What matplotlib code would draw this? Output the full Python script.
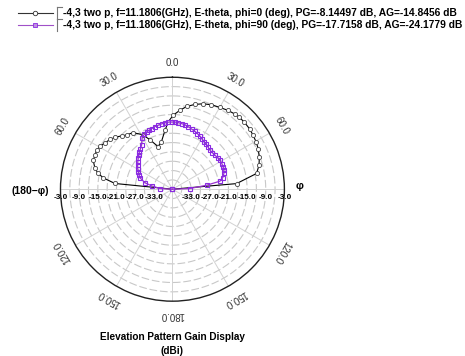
import numpy as np
import matplotlib.pyplot as plt
from matplotlib.lines import Line2D

# phi = 0 cut (theta in deg, gain in dBi)
theta_phi0 = [-90, -84.3, -80.7, -78, -75, -70, -66.3, -62.8, -59.3, -55.6, -51.5, -48,
              -43.6, -40, -35, -28.7, -24.5, -18.5, -13, -7.2, -3.6, 0.6, 5.4, 9.8, 14.8,
              19.8, 24.8, 30, 35.2, 39.5, 43, 47.1, 51.9, 56.2, 60.7, 64.6, 69.6, 74.5,
              79.4, 85, 90]
gain_phi0 = [-39, -20.4, -16.5, -14.6, -13.2, -11.9, -11.8, -11.6, -11.9, -12.7, -13.3, -14.1,
             -15.3, -16.2, -16.8, -19.0, -21.5, -24.6, -23.3, -19.9, -17.3, -15.2, -13.5, -12.0, -10.8,
             -9.8, -9.1, -8.6, -8.0, -7.6, -7.4, -7.4, -7.5, -7.8, -8.1, -8.5, -9.2, -10.1,
             -11.5, -18.3, -39]

# phi = 90 cut
theta_phi90 = [-90, -86.8, -81, -76.7, -70.5, -66.8, -63.2, -59.3, -55.4, -51.7, -48.1, -44.9,
               -41.7, -38.3, -35, -30.5, -27.3, -24.2, -21.5, -18.9, -15.7, -12.5, -9.4, -6.4,
               -3.5, -0.7, 2.2, 5, 8, 11, 14.3, 17.7, 21, 24.2, 27.6, 31, 34, 37, 40.5, 43.9,
               47.6, 51.3, 55, 58.6, 62.5, 66.3, 69.6, 73, 77, 80.4, 83.3, 87.7, 90]
gain_phi90 = [-39, -35.0, -32.3, -29.9, -27.9, -27.3, -26.7, -26.0, -25.4, -24.8, -24.2, -23.6,
              -23.0, -22.4, -21.7, -19.8, -19.2, -18.8, -18.6, -18.4, -18.1, -17.9, -17.7, -17.5,
              -17.4, -17.4, -17.4, -17.5, -17.7, -17.9, -18.3, -18.7, -19.0, -19.4, -19.8, -20.3,
              -20.6, -20.9, -21.3, -21.6, -21.6, -21.5, -21.3, -21.1, -21.1, -21.2, -21.4, -21.7,
              -22.4, -23.5, -27.9, -33.4, -39]

legend_texts = [
    "-4,3 two p, f=11.1806(GHz), E-theta, phi=0 (deg), PG=-8.14497 dB, AG=-14.8456 dB",
    "-4,3 two p, f=11.1806(GHz), E-theta, phi=90 (deg), PG=-17.7158 dB, AG=-24.1779 dB",
]
ring_values = [-3, -9, -15, -21, -27, -33]
angle_ticks = [0, 30, 60, 120, 150, 180, -30, -60, -120, -150]

plt.rcParams['font.family'] = ['Liberation Sans', 'DejaVu Sans']

W, H = 465, 356
fig = plt.figure(figsize=(W / 100, H / 100), dpi=100)
ax = fig.add_axes([0.130, 0.154, 0.4817, 0.629], projection='polar')
ax.set_theta_zero_location('N')
ax.set_theta_direction(-1)
rmin, rmax = -39, -3
ax.set_ylim(rmin, rmax)
ax.set_xticks([])
ax.set_yticks([])
ax.grid(False)
ax.spines['polar'].set_color('#222222')
ax.spines['polar'].set_linewidth(1.0)

# grid
full = np.linspace(0, 2 * np.pi, 361)
for r in np.arange(-36, -4, 3):
    ax.plot(full, np.full_like(full, r), color='#c8c8c8', lw=0.8, ls=(0, (7, 2.5)), zorder=1)
for a in range(0, 360, 30):
    ax.plot([np.deg2rad(a)] * 2, [rmin, rmax], color='#d2d2d2', lw=0.7, zorder=1)

# data
ax.plot(np.deg2rad(theta_phi0), gain_phi0, color='black', lw=0.8, marker='o', ms=3.0,
        mfc='white', mec='#444444', mew=0.6, zorder=3, clip_on=False)
ax.plot(np.deg2rad(theta_phi90), gain_phi90, color='#9933cc', lw=0.9, marker='s', ms=3.0,
        mfc='none', mec='#8a2be2', mew=0.8, zorder=4, clip_on=False)

# angle labels
lab_r = 1.6
for a in angle_ticks:
    ax.text(np.deg2rad(a), lab_r, f"{abs(a):.1f}", rotation=-a, rotation_mode='anchor',
            ha='center', va='center', fontsize=7, color='#333333')
ax.text(np.deg2rad(88.6), 2.0, "φ", ha='center', va='center', fontsize=8, fontweight='bold')
ax.text(np.deg2rad(-90.8), 6.8, "(180\u2212φ)", ha='center', va='center', fontsize=7.5,
        fontweight='bold')

# radial labels along the horizontal line
for i, v in enumerate(ring_values):
    for side in (90, -90):
        ax.annotate(f"{v:.1f}", xy=(np.deg2rad(side), v), xytext=(0, -5.8),
                    textcoords='offset points', ha='center', va='center', fontsize=5.9,
                    fontweight='bold', annotation_clip=False, zorder=10 + i)

# legend
def fy(y):
    return 1 - y / H

styles = [dict(color='#333333', marker='o', mfc='white', mec='#333333'),
          dict(color='#a050c8', marker='s', mfc='#c090e0', mec='#8a2be2')]
for k, (txt, st) in enumerate(zip(legend_texts, styles)):
    y = 13 + 12 * k
    fig.add_artist(Line2D([18 / W, 53 / W], [fy(y), fy(y)], lw=0.8, color=st['color']))
    fig.add_artist(Line2D([35 / W], [fy(y)], marker=st['marker'], ms=3.2, mfc=st['mfc'],
                          mec=st['mec'], mew=0.6, lw=0))
    fig.add_artist(Line2D([57 / W, 57 / W], [fy(y - 6), fy(y + 6)], lw=0.8, color='#777777'))
    fig.add_artist(Line2D([57 / W, 62 / W], [fy(y - 6), fy(y - 6)], lw=0.8, color='#777777'))
    fig.text(63 / W, fy(y), txt, ha='left', va='center', fontsize=7.4, fontweight='bold')

fig.text(172 / W, fy(337), "Elevation Pattern Gain Display", ha='center', va='center',
         fontsize=7.2, fontweight='bold')
fig.text(172 / W, fy(351), "(dBi)", ha='center', va='center', fontsize=7.2, fontweight='bold')

fig.savefig('out.png', dpi=100)
